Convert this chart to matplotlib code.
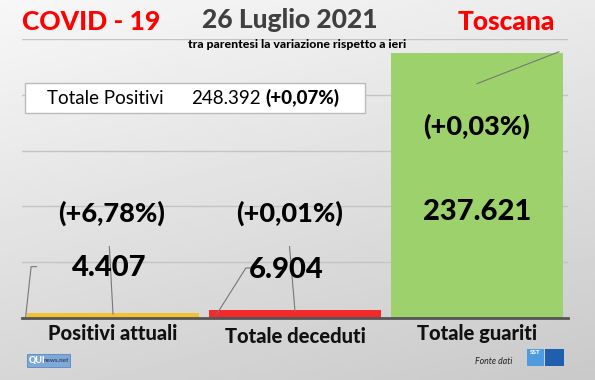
import matplotlib.pyplot as plt
import numpy as np

categories = ['Positivi attuali', 'Totale deceduti', 'Totale guariti']
values = [4407, 6904, 237621]
value_labels = ['4.407', '6.904', '237.621']
pct_labels = ['(+6,78%)', '(+0,01%)', '(+0,03%)']
colors = ['#f5c12e', '#f42a2a', '#9dd16b']

total_label = 'Totale Positivi'
total_value = '248.392'
total_pct = '(+0,07%)'

plt.rcParams['font.family'] = ['Lato', 'DejaVu Sans']

fig = plt.figure(figsize=(5.95, 3.8), dpi=100)

# background gradient
bg = fig.add_axes([0, 0, 1, 1])
yy, xx = np.mgrid[0:1:200j, 0:1:300j]
grad = 0.97 - 0.13 * yy - 0.05 * xx
bg.imshow(grad, cmap='gray', vmin=0, vmax=1, aspect='auto', extent=[0, 1, 0, 1], origin='upper')
bg.set_xlim(0, 1)
bg.set_ylim(0, 1)
bg.axis('off')

ax = fig.add_axes([22/595, 1-318/380, 546/595, 279/380])
ax.patch.set_alpha(0)
x = np.arange(len(categories))
ax.bar(x, values, width=0.945, color=colors, zorder=2)
ax.set_xlim(-0.5, 2.5)
ax.set_ylim(0, 250000)
ax.set_yticks(np.arange(50000, 250001, 50000))
ax.yaxis.grid(True, color='#c4c4c4', lw=1)
ax.tick_params(left=False, labelleft=False, bottom=False, length=0)
ax.set_xticks(x)
ax.set_xticklabels(categories, fontsize=14.5, fontweight='black', color='#111111')
for lbl, dy in zip(ax.get_xticklabels(), [0, 3, 0]):
    lbl.set_y(-0.003 - dy / 279)
for s in ['left', 'right', 'top']:
    ax.spines[s].set_visible(False)
ax.spines['bottom'].set_color('#555555')
ax.spines['bottom'].set_linewidth(2)
ax.spines['bottom'].set_zorder(3)

# value and percent labels
val_pos = [(-0.02, 44800), (0.95, 43000), (2.0, 95000)]
pct_pos = [(-0.01, 94100), (0.97, 94100), (2.0, 172000)]
for i in range(3):
    ax.text(val_pos[i][0], val_pos[i][1], value_labels[i], ha='center', va='center',
            fontsize=21, fontweight='black', color='black', zorder=4)
    ax.text(pct_pos[i][0], pct_pos[i][1], pct_labels[i], ha='center', va='center',
            fontsize=19.5, fontweight='black', color='black', zorder=4)

# leader lines
lc = '#777777'
ax.plot([-0.48, -0.45, -0.42], [800, 46000, 46000], color=lc, lw=0.8, zorder=3)
ax.plot([0.0, -0.02], [3500, 64000], color=lc, lw=0.8, zorder=3)
ax.plot([0.57, 0.73, 0.76], [3500, 44800, 44800], color=lc, lw=0.8, zorder=3)
ax.plot([1.0, 0.97], [6000, 64000], color=lc, lw=0.8, zorder=3)
ax.plot([2.0, 2.45], [210000, 238500], color=lc, lw=0.8, zorder=3)

# header
fig.text(22/595, 1-22/380, 'COVID - 19', color='#ff0000', fontsize=19, fontweight='black', va='center', ha='left')
fig.text(290/595, 1-20/380, '26 Luglio 2021', color='#404040', fontsize=19, fontweight='black', va='center', ha='center')
fig.text(555/595, 1-22/380, 'Toscana', color='#ff0000', fontsize=19, fontweight='black', va='center', ha='right')
fig.text(297/595, 1-45/380, 'tra parentesi la variazione rispetto a ieri', color='black', fontsize=8.8,
         fontweight='black', va='center', ha='center')

# total box
box = plt.Rectangle((25/595, 1-113/380), 340/595, 30/380, transform=fig.transFigure,
                    facecolor='white', edgecolor='#bbbbbb', lw=1, zorder=5)
fig.patches.append(box)
fig.text(47/595, 1-98/380, total_label, fontsize=13.5, color='black', va='center', ha='left', zorder=6)
fig.text(191/595, 1-98/380, total_value, fontsize=13.5, color='black', va='center', ha='left', zorder=6)
fig.text(265/595, 1-98/380, total_pct, fontsize=13.5, fontweight='black', color='black', va='center', ha='left', zorder=6)

# footer logos
qui = plt.Rectangle((27/595, 1-367/380), 43/595, 13/380, transform=fig.transFigure,
                    facecolor='#7ea8d8', edgecolor='#5d88c0', lw=0.6)
fig.patches.append(qui)
fig.text(29/595, 1-360.5/380, 'QUI', fontsize=6.5, fontweight='black', color='white', va='center', ha='left')
fig.text(44/595, 1-361/380, 'news.net', fontsize=4.5, fontweight='bold', color='#33475f', va='center', ha='left')

fig.text(475/595, 1-362/380, 'Fonte dati', fontsize=6.3, style='italic', color='#222222', va='center', ha='left')
sst1 = plt.Rectangle((527/595, 1-366/380), 17/595, 17/380, transform=fig.transFigure,
                     facecolor='#4f9be0', edgecolor='none')
sst2 = plt.Rectangle((545/595, 1-366/380), 19/595, 17/380, transform=fig.transFigure,
                     facecolor='#1f5fae', edgecolor='none')
fig.patches.extend([sst1, sst2])
fig.text(535.5/595, 1-353/380, 'SST', fontsize=4.5, fontweight='black', color='white', va='center', ha='center')

fig.savefig('out.png', dpi=100)
